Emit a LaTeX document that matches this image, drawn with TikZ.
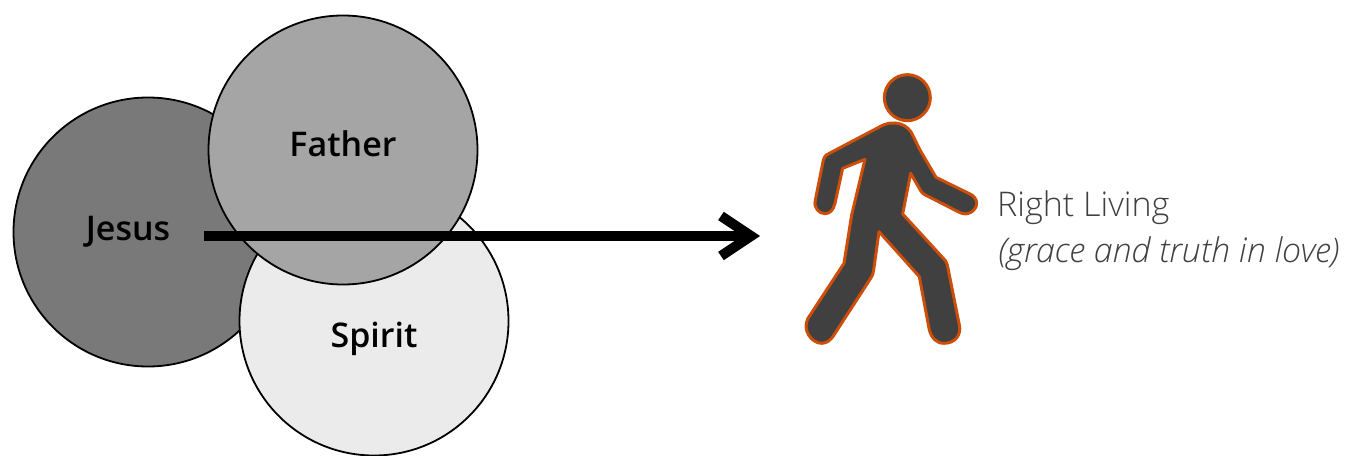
\documentclass[tikz,border=0pt]{standalone}
\usepackage{fontspec}
\usetikzlibrary{arrows.meta}
\setmainfont{Open Sans}
\newfontfamily\lightf[ItalicFont={Open Sans Light Italic}]{Open Sans Light}
\newfontfamily\semif{Open Sans Semibold}
\definecolor{jesusc}{HTML}{797979}
\definecolor{fatherc}{HTML}{A5A5A5}
\definecolor{spiritc}{HTML}{EBEBEB}
\definecolor{walkc}{HTML}{404040}
\definecolor{walke}{HTML}{CC4E08}
\tikzset{
  blob/.style={circle,draw=black,line width=1.8pt,minimum size=269pt,inner sep=0pt},
  blobtext/.style={font=\semif\fontsize{34}{38}\selectfont,text=black,inner sep=0pt},
  walker/.style={fill=walkc,draw=walke,line width=3pt,line join=round},
  lab/.style={font=\lightf\fontsize{34}{38}\selectfont,text=walkc,inner sep=0pt,anchor=west},
  flow/.style={line width=10pt,-{Straight Barb[length=30pt,width=40pt,line width=10pt]}}
}
\begin{document}
\begin{tikzpicture}[x=1pt,y=-1pt]
\useasboundingbox (0,0) rectangle (1346,455);
\node[blob,fill=jesusc] (jesus) at (148,232) {};
\node[blob,fill=spiritc] (spirit) at (374,321) {};
\node[blob,fill=fatherc] (father) at (343,150) {};
\node[blobtext] (tj) at (128,232) {Jesus};
\node[blobtext] (tf) at (343,144) {Father};
\node[blobtext] (ts) at (374,339) {Spirit};
\coordinate (from) at (204,236);
\coordinate (to) at (760,236);
\draw[flow] (from) -- (to);
% walker
\begin{scope}[shift={(780,60)},x=0.3333pt,y=-0.3333pt]
\node[circle,walker,minimum size=46pt,inner sep=0pt] (head) at (382,113) {};
\draw[walker]
 (300,200) -- (148,280) .. controls (135,286) and (132,292) .. (130,300)
 -- (106,420) .. controls (100,445) and (118,461) .. (135,461)
 .. controls (150,461) and (160,450) .. (165,430)
 -- (188,325) -- (255,298) -- (215,465) -- (192,610)
 -- (84,775) .. controls (65,810) and (95,850) .. (125,850)
 .. controls (140,850) and (152,840) .. (160,828)
 -- (272,655) .. controls (278,645) and (280,640) .. (281,630)
 -- (297,515) -- (418,650) -- (448,810)
 .. controls (455,835) and (470,850) .. (492,850)
 .. controls (525,850) and (545,825) .. (538,795)
 -- (502,615) .. controls (500,605) and (495,600) .. (490,595)
 -- (368,462) -- (392,340) -- (422,392) .. controls (427,400) and (430,402) .. (438,406)
 -- (540,458) .. controls (565,470) and (590,450) .. (590,430)
 .. controls (590,418) and (582,408) .. (572,403)
 -- (468,352) -- (420,270) -- (398,225)
 .. controls (385,195) and (345,175) .. (300,200) -- cycle;
\end{scope}
\node[lab] (l1) at (997,208) {Right Living};
\node[lab] (l2) at (998,254) {\itshape (grace and truth in love)};
\end{tikzpicture}
\end{document}
